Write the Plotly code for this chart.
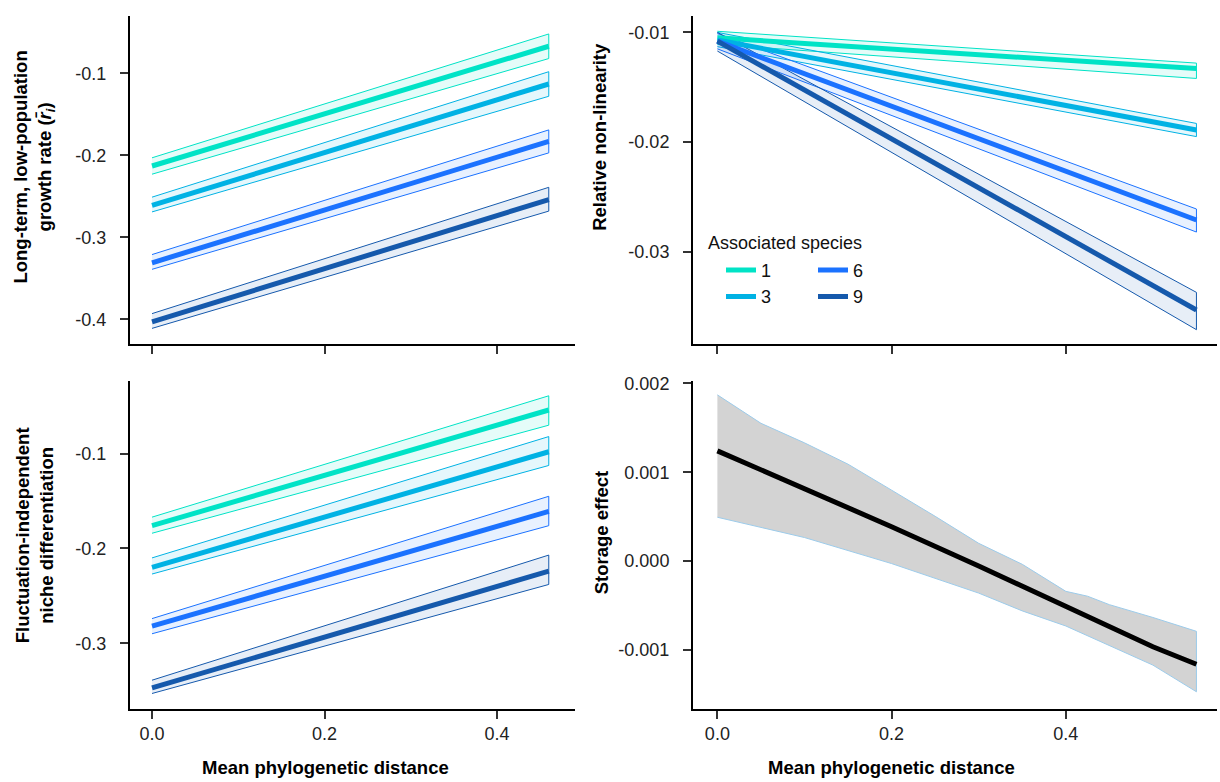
import plotly.graph_objects as go

# ---- data ----------------------------------------------------------------
species = ["1", "3", "6", "9"]
colors = {"1": "#00E3C6", "3": "#00B2E4", "6": "#1B72FF", "9": "#1559AC"}
fills = {"1": "rgba(0,227,198,0.10)", "3": "rgba(0,178,228,0.10)",
         "6": "rgba(27,114,255,0.10)", "9": "rgba(21,89,172,0.10)"}

# Long-term, low-population growth rate
lgr_x = [0.0, 0.46]
lgr_mean = {"1": [-0.213, -0.067], "3": [-0.261, -0.113],
            "6": [-0.331, -0.183], "9": [-0.403, -0.254]}
lgr_lo = {"1": [-0.223, -0.082], "3": [-0.269, -0.128],
          "6": [-0.339, -0.197], "9": [-0.411, -0.268]}
lgr_hi = {"1": [-0.203, -0.052], "3": [-0.251, -0.098],
          "6": [-0.321, -0.169], "9": [-0.393, -0.239]}

# Relative non-linearity
rnl_x = [0.0, 0.55]
rnl_mean = {"1": [-0.0105, -0.0133], "3": [-0.0107, -0.0189],
            "6": [-0.0108, -0.0271], "9": [-0.0108, -0.0353]}
rnl_lo = {"1": [-0.0111, -0.0142], "3": [-0.0113, -0.0195],
          "6": [-0.0115, -0.0282], "9": [-0.0117, -0.0371]}
rnl_hi = {"1": [-0.0099, -0.0128], "3": [-0.0100, -0.0183],
          "6": [-0.0101, -0.0261], "9": [-0.0100, -0.0337]}

# Fluctuation-independent niche differentiation
fin_x = [0.0, 0.46]
fin_mean = {"1": [-0.176, -0.054], "3": [-0.220, -0.098],
            "6": [-0.282, -0.161], "9": [-0.347, -0.224]}
fin_lo = {"1": [-0.184, -0.070], "3": [-0.227, -0.1125],
          "6": [-0.290, -0.176], "9": [-0.353, -0.238]}
fin_hi = {"1": [-0.167, -0.039], "3": [-0.210, -0.082],
          "6": [-0.274, -0.145], "9": [-0.339, -0.207]}

# Storage effect
se_x = [0.0, 0.1, 0.2, 0.3, 0.4, 0.5, 0.55]
se_mean = [0.00124, 0.000816, 0.000387, -0.000055, -0.000513, -0.000963, -0.00116]
se_band_x = [0.0, 0.05, 0.1, 0.15, 0.2, 0.25, 0.3, 0.35, 0.4, 0.425, 0.45, 0.5, 0.55]
se_hi = [0.00187, 0.00155, 0.00133, 0.00109, 0.000798, 0.000504, 0.00020,
         -0.000036, -0.00034, -0.000395, -0.00049, -0.000634, -0.00079]
se_lo_x = [0.0, 0.1, 0.2, 0.3, 0.35, 0.4, 0.45, 0.5, 0.55]
se_lo = [0.000493, 0.000265, -0.000028, -0.00036, -0.00056, -0.00073,
         -0.00095, -0.00117, -0.00147]

# ---- figure --------------------------------------------------------------
FONT = "Arial, Liberation Sans, sans-serif"
fig = go.Figure()


def add_band(x, lo, hi, color, fill, xa, ya):
    fig.add_trace(go.Scatter(
        x=list(x) + list(x)[::-1], y=list(hi) + list(lo)[::-1],
        fill="toself", fillcolor=fill, mode="lines",
        line=dict(color=color, width=1), showlegend=False,
        hoverinfo="skip", xaxis=xa, yaxis=ya))


def add_panel(x, mean, lo, hi, xa, ya, legend_on):
    for s in species:
        add_band(x, lo[s], hi[s], colors[s], fills[s], xa, ya)
    for s in species:
        fig.add_trace(go.Scatter(
            x=x, y=mean[s], mode="lines",
            line=dict(color=colors[s], width=5),
            name=s, showlegend=legend_on,
            legend="legend" if s in ("1", "3") else "legend2",
            xaxis=xa, yaxis=ya))


add_panel(lgr_x, lgr_mean, lgr_lo, lgr_hi, "x", "y", False)
add_panel(rnl_x, rnl_mean, rnl_lo, rnl_hi, "x2", "y2", True)
add_panel(fin_x, fin_mean, fin_lo, fin_hi, "x3", "y3", False)

# storage effect band (upper edge forward, lower edge back)
fig.add_trace(go.Scatter(
    x=se_band_x + se_lo_x[::-1], y=se_hi + se_lo[::-1],
    fill="toself", fillcolor="#D3D3D3", mode="lines",
    line=dict(color="#9CCBEA", width=1), showlegend=False,
    hoverinfo="skip", xaxis="x4", yaxis="y4"))
fig.add_trace(go.Scatter(
    x=se_x, y=se_mean, mode="lines", line=dict(color="#000000", width=5),
    showlegend=False, xaxis="x4", yaxis="y4"))

W, H = 1220, 782


def px(v):
    return v / W


def py(v):
    return 1 - v / H


axis_common = dict(
    showline=True, linecolor="#000000", linewidth=2, ticks="outside",
    ticklen=8, tickwidth=2, tickcolor="#333333", showgrid=False,
    zeroline=False, tickfont=dict(family=FONT, size=18, color="#222222"))
ylabel_gap = dict(ticklabelstandoff=10)

xl = [px(130), px(575)]
xr = [px(693), px(1217)]
yt = [py(340), py(9)]
yb = [py(708), py(377)]

legend_common = dict(xanchor="left", yanchor="top", bgcolor="rgba(0,0,0,0)",
                     font=dict(family=FONT, size=18, color="#111111"),
                     tracegroupgap=0, itemwidth=30)

fig.update_layout(
    width=W, height=H, margin=dict(l=0, r=0, t=0, b=0),
    paper_bgcolor="white", plot_bgcolor="white",
    xaxis=dict(domain=xl, range=[-0.0255, 0.4904], tickvals=[0, 0.2, 0.4],
               showticklabels=False, anchor="y", **axis_common),
    yaxis=dict(domain=yt, range=[-0.43, -0.030], tickvals=[-0.1, -0.2, -0.3, -0.4],
               ticktext=["-0.1", "-0.2", "-0.3", "-0.4"], anchor="x",
               **axis_common, **ylabel_gap),
    xaxis2=dict(domain=xr, range=[-0.028, 0.5736], tickvals=[0, 0.2, 0.4],
                showticklabels=False, anchor="y2", **axis_common),
    yaxis2=dict(domain=yt, range=[-0.0384, -0.0085], tickvals=[-0.01, -0.02, -0.03],
                ticktext=["-0.01", "-0.02", "-0.03"], anchor="x2",
                **axis_common, **ylabel_gap),
    xaxis3=dict(domain=xl, range=[-0.0255, 0.4904], tickvals=[0, 0.2, 0.4],
                ticktext=["0.0", "0.2", "0.4"], anchor="y3", **axis_common),
    yaxis3=dict(domain=yb, range=[-0.369, -0.023], tickvals=[-0.1, -0.2, -0.3],
                ticktext=["-0.1", "-0.2", "-0.3"], anchor="x3",
                **axis_common, **ylabel_gap),
    xaxis4=dict(domain=xr, range=[-0.028, 0.5736], tickvals=[0, 0.2, 0.4],
                ticktext=["0.0", "0.2", "0.4"], anchor="y4", **axis_common),
    yaxis4=dict(domain=yb, range=[-0.00166, 0.00203],
                tickvals=[0.002, 0.001, 0.0, -0.001],
                ticktext=["0.002", "0.001", "0.000", "-0.001"], anchor="x4",
                **axis_common, **ylabel_gap),
    legend=dict(x=px(721), y=py(247), **legend_common),
    legend2=dict(x=px(813), y=py(247), **legend_common),
)

title_font = dict(family=FONT, size=18.5, color="#000000", weight="bold")
annotations = [
    dict(text="Long-term, low-population<br>growth rate (<i>r̄<sub>i</sub></i>)",
         x=px(34), y=py(162), textangle=-90),
    dict(text="Relative non-linearity", x=px(600), y=py(131), textangle=-90),
    dict(text="Fluctuation-independent<br>niche differentiation",
         x=px(34), y=py(533), textangle=-90),
    dict(text="Storage effect", x=px(601), y=py(531), textangle=-90),
    dict(text="Mean phylogenetic distance", x=px(325), y=py(767), textangle=0),
    dict(text="Mean phylogenetic distance", x=px(891), y=py(767), textangle=0),
]
for a in annotations:
    fig.add_annotation(xref="paper", yref="paper", showarrow=False,
                       font=title_font, xanchor="center", yanchor="middle", **a)
fig.add_annotation(xref="paper", yref="paper", showarrow=False,
                   text="Associated species", x=px(706), y=py(238),
                   xanchor="left", yanchor="middle",
                   font=dict(family=FONT, size=18, color="#111111"))

fig.write_html("out.html")
